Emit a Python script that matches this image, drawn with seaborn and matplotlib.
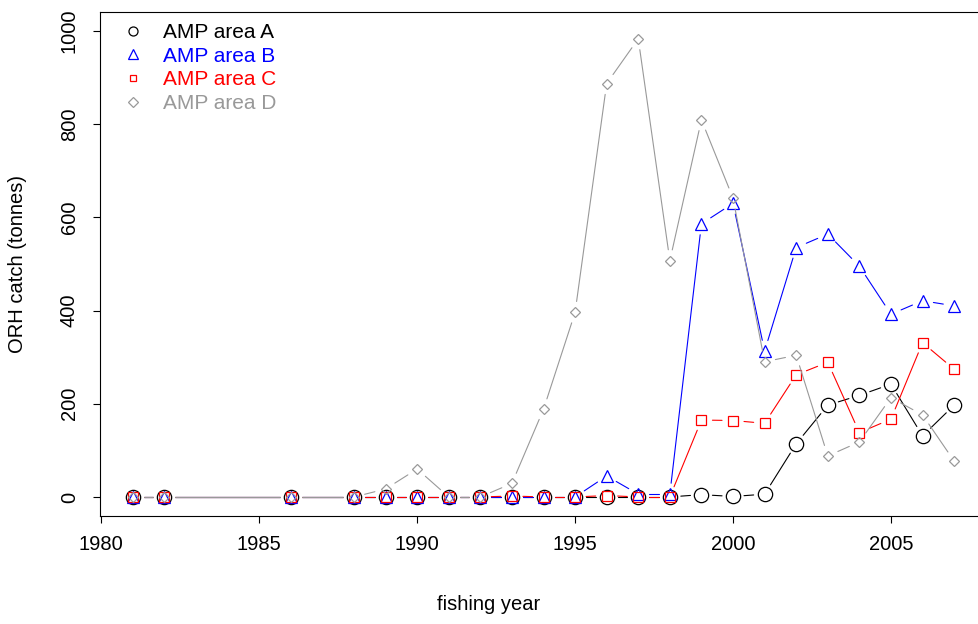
import numpy as np
import pandas as pd
import matplotlib
matplotlib.use("Agg")
import matplotlib.pyplot as plt
from matplotlib.lines import Line2D
import seaborn as sns

# ---- data -------------------------------------------------------------
years = [1981, 1982, 1986, 1988, 1989, 1990, 1991, 1992, 1993, 1994, 1995,
         1996, 1997, 1998, 1999, 2000, 2001, 2002, 2003, 2004, 2005, 2006, 2007]

area_a = [0, 0, 0, 0, 0, 0, 0, 0, 0, 0, 0,
          0, 0, 0, 5, 1, 6, 114, 197, 218, 242, 131, 197]
area_b = [0, 0, 0, 0, 0, 0, 0, 0, 0, 0, 0,
          45, 6, 6, 586, 630, 313, 535, 564, 495, 392, 421, 410]
area_c = [0, 0, 0, 0, 0, 0, 0, 0, 2, 0, 0,
          3, 0, 0, 165, 164, 158, 262, 289, 138, 167, 331, 274]
area_d = [0, 0, 0, 0, 17, 60, 0, 0, 29, 188, 396,
          887, 983, 507, 809, 641, 290, 304, 88, 118, 213, 176, 77]

series_names = ["AMP area A", "AMP area B", "AMP area C", "AMP area D"]
series_values = [area_a, area_b, area_c, area_d]

x_ticks = [1980, 1985, 1990, 1995, 2000, 2005]
y_ticks = [0, 200, 400, 600, 800, 1000]

# ---- styling ------------------------------------------------------------
colors = ["black", "blue", "red", "#999999"]
markers = ["o", "^", "s", "D"]
marker_sizes = [10.3, 8.6, 6.5, 5.6]
legend_sizes = [6.5, 7.2, 5.0, 4.6]
GAP_PX = 11.0

sns.set_style("ticks")
plt.rcParams["font.family"] = ["Liberation Sans", "DejaVu Sans"]
plt.rcParams["text.color"] = "black"
plt.rcParams["axes.labelcolor"] = "black"
plt.rcParams["xtick.color"] = "black"
plt.rcParams["ytick.color"] = "black"
FS = 14.5

W, H, DPI = 979, 624, 100
fig = plt.figure(figsize=(W / DPI, H / DPI), dpi=DPI)
ax_left, ax_bottom, ax_w, ax_h = 100, 108.4, 887, 503.4
ax = fig.add_axes([ax_left / W, ax_bottom / H, ax_w / W, ax_h / H])
ax.set_xlim(1979.96, 2008.04)
ax.set_ylim(-40, 1040)

to_disp = ax.transData
to_data = ax.transData.inverted()

# R-style "b" plots: segments stop short of each point
for k, (name, vals) in enumerate(zip(series_names, series_values)):
    pts = to_disp.transform(np.column_stack([years, vals]).astype(float))
    rows = []
    for i in range(len(pts) - 1):
        p0, p1 = pts[i], pts[i + 1]
        d = p1 - p0
        L = np.hypot(*d)
        if L <= 2 * GAP_PX:
            continue
        u = d / L
        a = to_data.transform(p0 + GAP_PX * u)
        b = to_data.transform(p1 - GAP_PX * u)
        rows.append((i, a[0], a[1]))
        rows.append((i, b[0], b[1]))
    seg = pd.DataFrame(rows, columns=["seg", "year", "catch"])
    sns.lineplot(data=seg, x="year", y="catch", units="seg", estimator=None,
                 sort=False, color=colors[k], linewidth=0.8, ax=ax)
    pts_df = pd.DataFrame({"year": years, "catch": vals})
    sns.lineplot(data=pts_df, x="year", y="catch", estimator=None, sort=False,
                 linestyle="", marker=markers[k], markersize=marker_sizes[k],
                 markerfacecolor="none", markeredgecolor=colors[k],
                 markeredgewidth=0.9, color=colors[k], ax=ax)

ax.set_xlim(1979.96, 2008.04)
ax.set_ylim(-40, 1040)
ax.set_xticks(x_ticks)
ax.set_yticks(y_ticks)
ax.set_xticklabels([str(t) for t in x_ticks], fontsize=FS, color="black")
ax.set_yticklabels([str(t) for t in y_ticks], fontsize=FS, rotation=90,
                   va="center", color="black")
ax.tick_params(axis="both", direction="out", length=5.2, width=0.8, color="black")
ax.tick_params(axis="x", pad=9)
ax.tick_params(axis="y", pad=10)
for s in ax.spines.values():
    s.set_visible(True)
    s.set_linewidth(0.8)
    s.set_color("black")

ax.set_xlabel("fishing year", fontsize=FS, color="black")
ax.set_ylabel("ORH catch (tonnes)", fontsize=FS, color="black")
ax.xaxis.set_label_coords((489 - ax_left) / ax_w, -(605 - (H - ax_bottom)) / ax_h)
ax.xaxis.label.set_va("center")
ax.yaxis.set_label_coords((18 - ax_left) / ax_w, 0.5)
ax.yaxis.label.set_va("center")

handles = [Line2D([], [], linestyle="", marker=m, markersize=s,
                  markerfacecolor="none", markeredgecolor=c, markeredgewidth=0.9)
           for m, s, c in zip(markers, legend_sizes, colors)]
leg = ax.legend(handles, series_names, loc="upper left",
                bbox_to_anchor=(23 / ax_w, 1 - 11.0 / ax_h), frameon=False,
                fontsize=15, handlelength=1.0, handletextpad=0.92,
                borderpad=0, borderaxespad=0, labelspacing=0.22, numpoints=1)
for txt, c in zip(leg.get_texts(), colors):
    txt.set_color(c)

fig.savefig("out.png", dpi=DPI)
